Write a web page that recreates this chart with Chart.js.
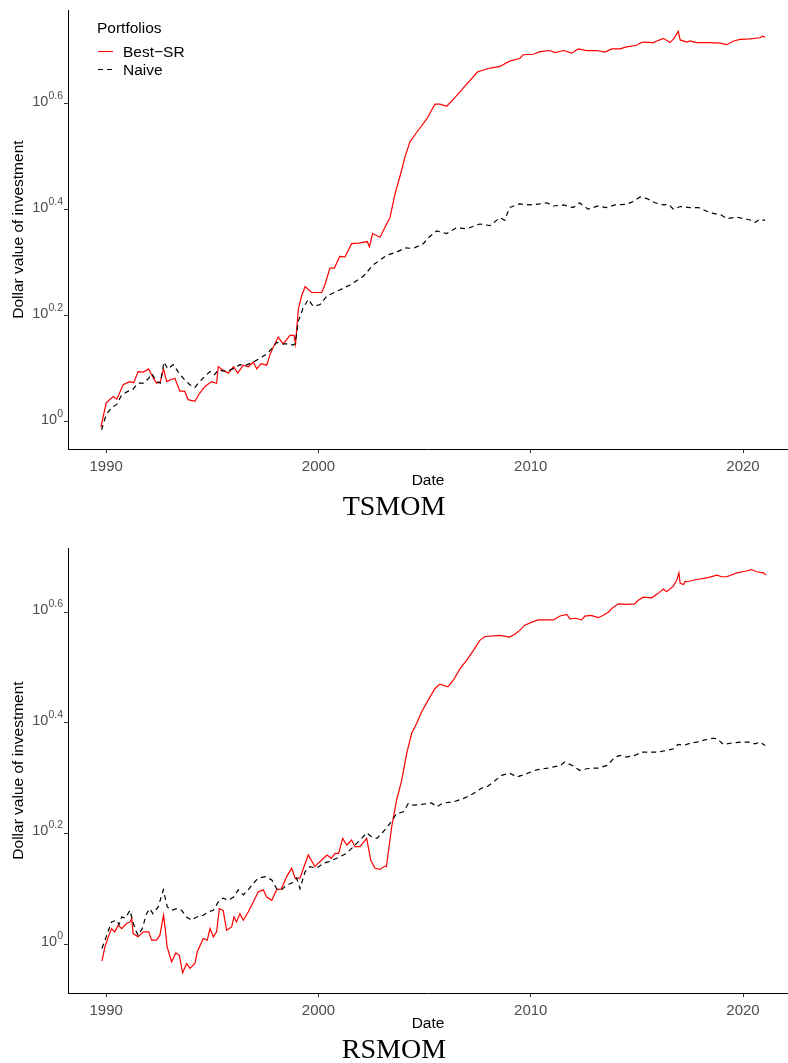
<!DOCTYPE html>
<html>
<head>
<meta charset="utf-8">
<script src="https://cdn.jsdelivr.net/npm/chart.js@4.4.1/dist/chart.umd.min.js"></script>
<style>
	html, body { margin:0; padding:0; background:#fff; overflow:hidden; }
	#wrap { position:relative; width:788px; height:1063px; }
	.panel { position:absolute; left:0; width:788px; }
	#legend { position:absolute; left:0; top:0; font-family:"Liberation Sans", Arial, sans-serif; font-size:15.5px; color:#000; }
	#legend .txt { position:absolute; white-space:nowrap; line-height:18px; }
	#legend .key { position:absolute; width:15px; height:1.3px; }
</style>
</head>
<body>
<div id="wrap">
	<div class="panel" style="top:0;height:530px"><canvas id="chartTs"></canvas></div>
	<div class="panel" style="top:530px;height:533px"><canvas id="chartRs"></canvas></div>
	<div id="legend">
		<div class="txt" style="left:97px;top:19px">Portfolios</div>
		<div class="key" style="left:98px;top:51px;background:#ff0000"></div>
		<div class="txt" style="left:123px;top:42.5px">Best−SR</div>
		<div class="key" style="left:98px;top:69px;background:repeating-linear-gradient(to right,#000 0 5px,transparent 5px 9px)"></div>
		<div class="txt" style="left:123px;top:61px">Naive</div>
	</div>
</div>
<script>
// axis ticks
const xTickYears = [1990, 2000, 2010, 2020];
const yTickExp = [0, 0.2, 0.4, 0.6];

// TSMOM panel - log10 of dollar value
const tsBestYear = [1989.75,1990.0,1990.33,1990.5,1990.8,1991.1,1991.3,1991.5,1991.75,1992.0,1992.15,1992.37,1992.55,1992.7,1992.85,1993.05,1993.24,1993.47,1993.7,1993.86,1994.18,1994.4,1994.65,1994.97,1995.2,1995.28,1995.5,1995.75,1996.0,1996.2,1996.45,1996.7,1996.93,1997.09,1997.3,1997.56,1997.71,1997.87,1998.1,1998.34,1998.66,1998.85,1998.92,1999.05,1999.2,1999.37,1999.68,2000.15,2000.3,2000.54,2000.75,2001.0,2001.25,2001.56,2001.9,2002.3,2002.4,2002.55,2002.9,2003.21,2003.37,2003.6,2003.84,2004.08,2004.31,2004.63,2005.1,2005.49,2005.72,2006.04,2006.35,2006.9,2007.5,2008.1,2008.55,2009.0,2009.48,2009.65,2010.12,2010.44,2010.9,2011.14,2011.54,2011.93,2012.24,2012.64,2013.1,2013.5,2013.82,2014.2,2014.52,2015.0,2015.15,2015.3,2015.78,2015.94,2016.25,2016.56,2016.75,2016.95,2017.04,2017.35,2017.5,2017.82,2018.45,2018.92,2019.24,2019.55,2019.86,2020.33,2020.8,2020.93,2021.04];
const tsBestLog = [-0.01,0.036,0.048,0.043,0.07,0.076,0.074,0.095,0.094,0.10,0.088,0.073,0.076,0.10,0.076,0.08,0.082,0.058,0.058,0.042,0.039,0.054,0.067,0.076,0.073,0.104,0.098,0.092,0.104,0.092,0.107,0.104,0.113,0.10,0.11,0.107,0.126,0.141,0.16,0.147,0.163,0.163,0.147,0.212,0.237,0.255,0.244,0.244,0.258,0.29,0.29,0.312,0.311,0.336,0.337,0.34,0.33,0.355,0.348,0.373,0.385,0.429,0.463,0.50,0.528,0.546,0.571,0.599,0.599,0.595,0.608,0.633,0.66,0.667,0.67,0.68,0.685,0.692,0.693,0.698,0.70,0.696,0.70,0.695,0.703,0.70,0.70,0.697,0.703,0.703,0.707,0.71,0.714,0.716,0.715,0.718,0.723,0.715,0.723,0.736,0.72,0.716,0.718,0.715,0.715,0.714,0.711,0.718,0.721,0.722,0.724,0.727,0.725];
const tsNaiveYear = [1989.78,1990.0,1990.25,1990.5,1990.73,1991.04,1991.25,1991.5,1991.75,1992.0,1992.15,1992.37,1992.55,1992.72,1992.9,1993.16,1993.4,1993.63,1993.94,1994.18,1994.4,1994.65,1994.89,1995.1,1995.28,1995.67,1996.0,1996.3,1996.6,1996.93,1997.24,1997.56,1997.8,1998.03,1998.3,1998.5,1998.8,1998.9,1999.05,1999.28,1999.52,1999.75,2000.07,2000.39,2000.86,2001.48,2002.1,2002.58,2003.21,2003.68,2004.08,2004.47,2004.94,2005.17,2005.57,2006.04,2006.51,2006.98,2007.6,2008.08,2008.55,2008.78,2009.0,2009.47,2009.94,2010.44,2010.75,2011.07,2011.54,2012.0,2012.3,2012.7,2013.17,2013.56,2013.97,2014.5,2014.8,2015.15,2015.47,2015.86,2016.25,2016.5,2016.72,2017.04,2017.51,2017.9,2018.3,2018.6,2018.98,2019.24,2019.7,2020.18,2020.4,2020.56,2020.78,2021.04];
const tsNaiveLog = [-0.015,0.014,0.027,0.033,0.051,0.058,0.061,0.073,0.073,0.082,0.091,0.076,0.073,0.113,0.10,0.108,0.094,0.082,0.07,0.065,0.076,0.086,0.095,0.089,0.098,0.095,0.101,0.108,0.107,0.113,0.12,0.128,0.138,0.15,0.147,0.147,0.145,0.147,0.19,0.215,0.231,0.218,0.221,0.237,0.246,0.258,0.274,0.296,0.314,0.32,0.328,0.327,0.336,0.347,0.36,0.355,0.366,0.364,0.373,0.37,0.385,0.38,0.404,0.411,0.409,0.411,0.413,0.407,0.409,0.404,0.413,0.401,0.407,0.404,0.409,0.41,0.415,0.424,0.421,0.413,0.409,0.41,0.401,0.406,0.404,0.404,0.397,0.393,0.39,0.383,0.386,0.382,0.38,0.376,0.382,0.38];

// RSMOM panel - log10 of dollar value
const rsBestYear = [1989.8,1989.94,1990.1,1990.25,1990.4,1990.57,1990.73,1990.96,1991.12,1991.2,1991.27,1991.5,1991.75,1992.0,1992.14,1992.37,1992.53,1992.7,1992.78,1992.87,1993.08,1993.28,1993.44,1993.6,1993.79,1993.94,1994.18,1994.29,1994.57,1994.76,1994.89,1995.05,1995.2,1995.33,1995.51,1995.67,1995.91,1996.02,1996.14,1996.3,1996.46,1996.69,1996.93,1997.16,1997.4,1997.56,1997.8,1998.03,1998.26,1998.5,1998.74,1998.9,1999.13,1999.29,1999.52,1999.83,2000.15,2000.4,2000.6,2000.78,2000.95,2001.14,2001.33,2001.56,2001.72,2001.96,2002.27,2002.46,2002.66,2002.9,2003.13,2003.2,2003.45,2003.68,2003.92,2004.16,2004.39,2004.63,2004.86,2005.17,2005.49,2005.72,2006.1,2006.35,2006.67,2006.98,2007.3,2007.6,2007.85,2008.55,2009.0,2009.25,2009.48,2009.7,2010.05,2010.36,2011.07,2011.38,2011.7,2011.85,2012.1,2012.4,2012.55,2012.85,2013.17,2013.4,2013.65,2013.89,2014.13,2014.52,2014.9,2015.05,2015.3,2015.7,2016.0,2016.25,2016.4,2016.72,2016.88,2016.98,2017.04,2017.2,2017.28,2017.35,2017.82,2018.3,2018.77,2019.0,2019.24,2019.7,2020.1,2020.4,2020.64,2020.96,2021.09];
const rsBestLog = [-0.031,-0.005,0.013,0.028,0.022,0.034,0.028,0.037,0.04,0.046,0.019,0.013,0.022,0.022,0.007,0.007,0.016,0.052,0.028,-0.005,-0.032,-0.016,-0.02,-0.052,-0.035,-0.044,-0.035,-0.014,0.01,0.007,0.028,0.013,0.022,0.064,0.061,0.025,0.031,0.049,0.04,0.055,0.043,0.058,0.076,0.094,0.098,0.085,0.079,0.098,0.10,0.122,0.137,0.119,0.119,0.137,0.161,0.14,0.152,0.161,0.155,0.164,0.164,0.191,0.179,0.188,0.176,0.176,0.191,0.152,0.137,0.135,0.141,0.14,0.212,0.26,0.296,0.345,0.381,0.399,0.42,0.441,0.462,0.47,0.465,0.477,0.498,0.513,0.531,0.549,0.556,0.558,0.555,0.56,0.567,0.576,0.582,0.586,0.586,0.593,0.596,0.588,0.589,0.586,0.593,0.594,0.59,0.594,0.60,0.609,0.615,0.614,0.615,0.621,0.627,0.626,0.634,0.642,0.637,0.647,0.658,0.671,0.652,0.65,0.656,0.655,0.659,0.662,0.667,0.664,0.664,0.671,0.674,0.677,0.673,0.671,0.667];
const rsNaiveYear = [1989.8,1990.0,1990.25,1990.5,1990.6,1990.73,1990.9,1991.12,1991.2,1991.35,1991.5,1991.7,1991.9,1992.05,1992.2,1992.45,1992.69,1992.88,1993.08,1993.32,1993.55,1993.79,1994.02,1994.26,1994.57,1994.8,1995.04,1995.28,1995.51,1995.75,1996.0,1996.22,1996.46,1996.69,1996.93,1997.16,1997.48,1997.8,1998.03,1998.26,1998.5,1998.74,1998.97,1999.13,1999.37,1999.6,1999.9,2000.23,2000.5,2000.86,2001.33,2001.72,2001.96,2002.27,2002.5,2002.75,2003.05,2003.37,2003.68,2004.0,2004.23,2004.47,2004.94,2005.33,2005.57,2005.88,2006.35,2006.82,2007.3,2007.69,2007.93,2008.24,2008.63,2009.0,2009.34,2009.81,2010.28,2010.8,2011.4,2011.6,2012.0,2012.3,2012.8,2013.2,2013.6,2013.97,2014.2,2014.5,2014.9,2015.23,2015.6,2016.0,2016.4,2016.72,2016.95,2017.2,2017.5,2017.82,2018.2,2018.6,2018.8,2019.07,2019.55,2019.94,2020.33,2020.55,2020.8,2021.04];
const rsNaiveLog = [-0.008,0.013,0.04,0.043,0.035,0.049,0.047,0.061,0.049,0.028,0.016,0.028,0.055,0.064,0.055,0.067,0.098,0.067,0.061,0.064,0.061,0.049,0.043,0.049,0.052,0.058,0.061,0.076,0.083,0.079,0.085,0.098,0.089,0.098,0.11,0.119,0.122,0.116,0.10,0.098,0.107,0.11,0.119,0.10,0.131,0.14,0.137,0.146,0.149,0.155,0.164,0.179,0.188,0.201,0.194,0.191,0.203,0.218,0.236,0.239,0.254,0.251,0.253,0.255,0.248,0.255,0.257,0.263,0.272,0.282,0.284,0.293,0.305,0.309,0.302,0.308,0.315,0.318,0.323,0.329,0.322,0.314,0.318,0.318,0.323,0.338,0.341,0.338,0.341,0.347,0.347,0.347,0.35,0.353,0.361,0.359,0.363,0.365,0.369,0.372,0.371,0.361,0.364,0.365,0.365,0.362,0.365,0.359];

const SANS = '"Liberation Sans", Arial, sans-serif';
Chart.defaults.font.family = SANS;

// y tick labels as 10 with superscript exponent
const supTicks = {
	id: 'supTicks',
	afterDraw(chart){
		const ys = chart.scales.y;
		const ctx = chart.ctx;
		ctx.save();
		ctx.fillStyle = '#4d4d4d';
		ctx.textBaseline = 'alphabetic';
		ys.ticks.forEach(t => {
			const py = ys.getPixelForValue(t.value);
			const ex = String(t.value);
			ctx.font = '10.5px ' + SANS;
			const ew = ctx.measureText(ex).width;
			const right = 63;
			ctx.textAlign = 'left';
			ctx.fillText(ex, right - ew, py - 5);
			ctx.font = '14.5px ' + SANS;
			ctx.textAlign = 'right';
			ctx.fillText('10', right - ew, py + 2);
		});
		ctx.restore();
	}
};

function pts(xs, ys){ return xs.map((x, i) => ({ x: x, y: ys[i] })); }

function buildChart(id, p){
	return new Chart(document.getElementById(id), {
		type: 'line',
		data: {
			datasets: [
				{ label: 'Naive', data: pts(p.naiveYear, p.naiveLog), borderColor: '#000', borderWidth: 1.2, borderDash: [5, 4], pointRadius: 0, tension: 0, order: 0 },
				{ label: 'Best−SR', data: pts(p.bestYear, p.bestLog), borderColor: '#ff0000', borderWidth: 1.2, pointRadius: 0, tension: 0, order: 1 }
			]
		},
		options: {
			responsive: true, maintainAspectRatio: false, animation: false,
			layout: { padding: { top: p.padTop, right: 0, bottom: 0, left: 0 } },
			plugins: {
				legend: { display: false },
				tooltip: { enabled: false },
				title: {
					display: true, text: p.title, position: 'bottom', color: '#000',
					font: { family: '"Liberation Serif", "DejaVu Serif", serif', size: 28, weight: 'normal', lineHeight: 0.8 },
					padding: { top: 0, bottom: p.titlePad }
				}
			},
			scales: {
				x: {
					type: 'linear', min: 1988.2, max: 2022.12,
					afterBuildTicks: s => { s.ticks = xTickYears.map(v => ({ value: v })); },
					afterFit: s => { s.height = p.xHeight; },
					ticks: { color: '#4d4d4d', font: { size: 15 }, padding: 5, autoSkip: false, maxRotation: 0, callback: v => String(v) },
					grid: { drawOnChartArea: false, tickLength: 4, color: '#333' },
					border: { color: '#000', width: 1 },
					title: { display: true, text: 'Date', color: '#000', font: { size: 15.5 }, padding: { top: 0, bottom: 6.4 } }
				},
				y: {
					type: 'linear', min: p.yMin, max: p.yMax,
					afterBuildTicks: s => { s.ticks = yTickExp.map(v => ({ value: v })); },
					afterFit: s => { s.width = 68; },
					ticks: { autoSkip: false, callback: () => '' },
					grid: { drawOnChartArea: false, tickLength: 4, color: '#333' },
					border: { color: '#000', width: 1 },
					title: { display: true, text: 'Dollar value of investment', color: '#000', font: { size: 15.5 }, padding: { top: 9, bottom: 0 } }
				}
			}
		},
		plugins: [supTicks]
	});
}

buildChart('chartTs', {
	bestYear: tsBestYear, bestLog: tsBestLog, naiveYear: tsNaiveYear, naiveLog: tsNaiveLog,
	yMin: -0.051, yMax: 0.776, title: 'TSMOM', padTop: 3.5, titlePad: 10.8, xHeight: 47.8
});
buildChart('chartRs', {
	bestYear: rsBestYear, bestLog: rsBestLog, naiveYear: rsNaiveYear, naiveLog: rsNaiveLog,
	yMin: -0.0885, yMax: 0.716, title: 'RSMOM', padTop: 18, titlePad: 0.8, xHeight: 46.8
});
</script>
</body>
</html>
